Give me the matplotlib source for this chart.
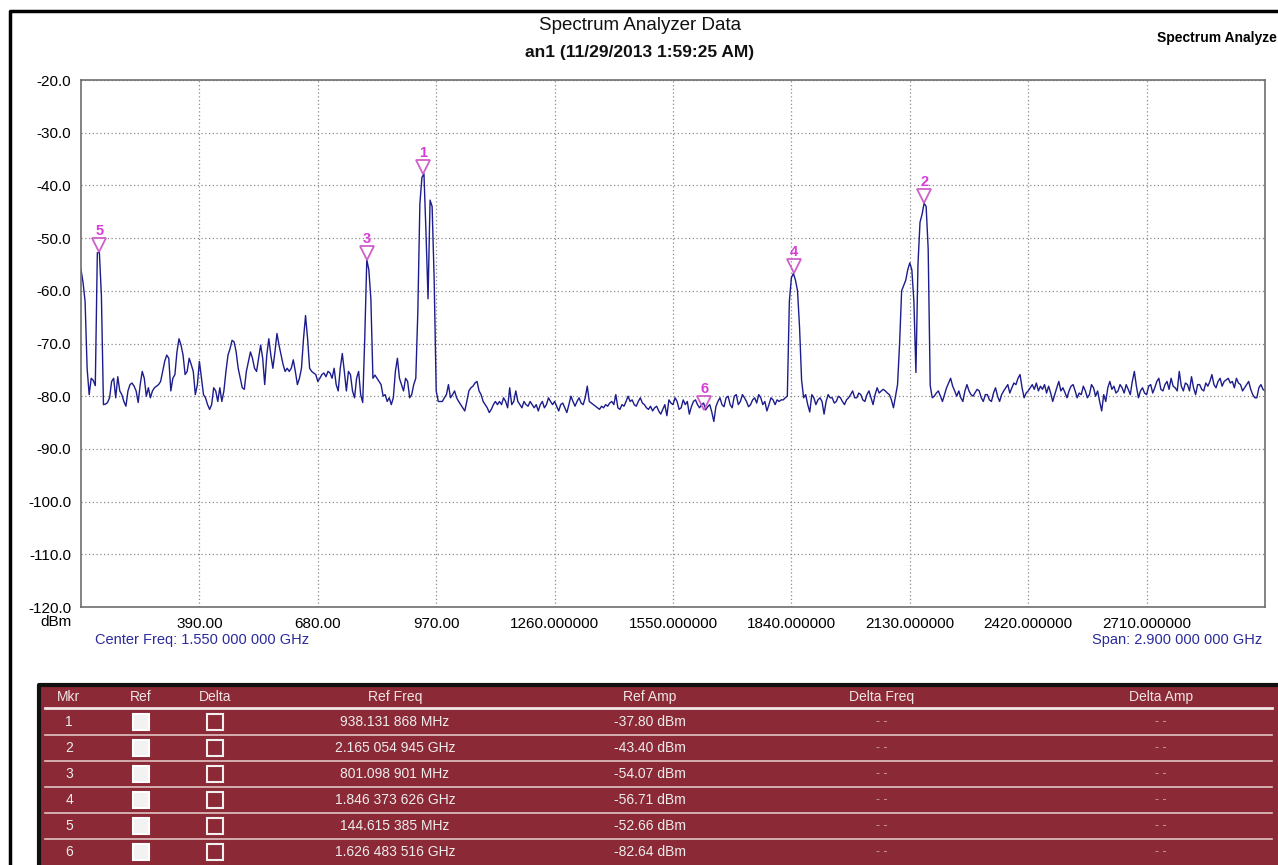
import matplotlib.pyplot as plt
import numpy as np
from matplotlib.patches import Rectangle
from matplotlib.transforms import offset_copy

plt.rcParams['font.family'] = ['Liberation Sans', 'DejaVu Sans']

# sweep 100 MHz .. 3000 MHz, one reading every 5 MHz
start_mhz, stop_mhz = 100, 3000
trace_dbm = [
    # 100 - 195
    -56, -58.4, -62, -74.7, -79.7, -76.6, -77, -78, -52.8, -52.7,
    -61, -81.6, -81.5, -81.2, -80.3, -77.2, -76.6, -80.3, -76.3, -79,
    # 200
    -79.7, -81, -81.9, -79, -77.8, -77.5, -78.1, -79, -81.2, -77.8,
    -75.3, -76.6, -80, -78.4, -80.3, -79, -78.4, -78.1, -77.8, -77.2,
    # 300
    -75.3, -73.4, -72.2, -72.8, -79, -76.6, -75.9, -71.6, -69.1, -70.3,
    -72.2, -75.9, -75.3, -72.8, -74, -75.3, -79.7, -77.8, -73.4, -76.6,
    # 400
    -79.7, -80.3, -81.6, -82.5, -81.6, -78.4, -79, -81, -78.4, -81,
    -79, -75.3, -72.2, -71, -69.4, -69.7, -71.6, -74.7, -76.6, -78.4,
    # 500
    -78.7, -75.3, -73.4, -71.6, -72.8, -74.7, -75.3, -72.8, -70.3, -72.8,
    -77.8, -72.2, -69.1, -72.2, -74.7, -71.6, -68.1, -70.3, -72.2, -74,
    # 600
    -75.3, -74.7, -75.3, -74.7, -73.1, -75.3, -77.8, -76.6, -74.7, -69.1,
    -64.7, -69.1, -74.7, -75.3, -75.6, -75.9, -77.2, -76.6, -75.9, -75.6,
    # 700
    -76.3, -75.3, -75.6, -76.6, -74.7, -77.8, -79, -74.7, -71.9, -75.3,
    -79, -75.3, -75.9, -79, -80.3, -76.6, -75.3, -79.7, -81.2, -69,
    # 800
    -54.1, -56, -61.6, -76.6, -76, -76.6, -77.2, -77.8, -80, -79.7,
    -81, -80.3, -81.6, -80.3, -75.3, -72.8, -76.6, -77.8, -79, -76.6,
    # 900
    -77.2, -80.3, -79.7, -77.8, -76.6, -64, -43.5, -38.5, -37.8, -49,
    -61.5, -42.8, -44, -57.8, -79, -81, -81, -81, -80.3, -79.7,
    # 1000
    -77.8, -80.3, -79.7, -79, -80.3, -81, -81.6, -82.2, -82.8, -81,
    -79, -78.4, -78.1, -77.5, -77.2, -79, -79.7, -81, -81.6, -82.2,
    # 1100
    -83.1, -82.5, -81.6, -81, -81.6, -81, -81.6, -80.3, -81, -82.2,
    -78.4, -81.6, -81, -79, -81, -81.6, -82.2, -81, -81.6, -81.9,
    # 1200
    -81, -81.6, -82.2, -81.6, -82.8, -81.6, -81, -82.2, -81.6, -80.3,
    -81, -81.6, -81, -81.9, -82.8, -81.6, -81.3, -82.2, -83.1, -81.6,
    # 1300
    -80, -81, -81.9, -81, -80.3, -81.3, -81.6, -80.3, -78.1, -81,
    -81.3, -81.6, -81.9, -82.2, -82.5, -81.9, -82.2, -81.6, -81.9, -81.3,
    # 1400
    -81, -81.6, -79.7, -82.2, -82.5, -81.6, -81.9, -81, -80, -81,
    -80.7, -81.6, -81.9, -81, -80.3, -81.3, -81.6, -82.2, -82.5, -81.9,
    # 1500
    -82.8, -82.2, -81.9, -82.8, -83.4, -82.5, -81.6, -83.7, -80.7, -81.3,
    -81.6, -80.3, -81, -82.5, -82.2, -80.7, -81.6, -81, -83.4, -82,
    # 1600
    -81, -80.7, -81.6, -82.2, -81.6, -81.3, -82.6, -82, -81.6, -83,
    -84.8, -82, -81, -80.3, -81.6, -82, -80.3, -80, -81.6, -82.2,
    # 1700
    -80, -79.7, -81.6, -81, -79.7, -80.3, -81, -82, -81.6, -80.7,
    -80.3, -81.3, -79.7, -80.3, -81.6, -81, -82.8, -81.6, -80.3, -80.7,
    # 1800
    -81.6, -80.7, -81, -80.7, -80.7, -80.3, -80, -62, -57.5, -56.7,
    -58, -60, -67, -77, -80.3, -79.7, -81.6, -83, -79.7, -80.3,
    # 1900
    -81.6, -80.7, -80.3, -81, -83.4, -81, -79.7, -80.3, -80.3, -81.3,
    -81, -80, -80.3, -81, -81.6, -80.7, -80.3, -79.7, -79, -80.3,
    # 2000
    -80.3, -79.4, -79.7, -80.7, -81, -79.7, -79, -80.3, -81.6, -79.7,
    -78.4, -79.4, -79, -78.7, -79, -79.4, -79.7, -80.7, -82.2, -80,
    # 2100
    -77.8, -70, -60, -59, -58, -56, -54.7, -56, -62, -75.5,
    -55, -47, -45.5, -43.4, -44, -52, -78, -80.3, -80, -79.4,
    # 2200
    -79, -80, -81, -79.7, -78.4, -77.5, -76.6, -78.1, -79, -80,
    -79, -80.3, -81, -79, -77.8, -79, -79.7, -80, -79.3, -78.7,
    # 2300
    -79, -80.3, -81, -79.7, -79.7, -80.7, -81, -79.4, -78.4, -80,
    -81, -79.7, -79, -78.4, -77.8, -79.4, -78.4, -77.5, -77.8, -76.6,
    # 2400
    -75.9, -78.4, -80.3, -79.4, -79, -78.4, -77.8, -78.7, -77.5, -79,
    -78.1, -78.7, -77.8, -79.4, -78.1, -79.4, -81, -79.7, -78.4, -77.2,
    # 2500
    -79, -78.4, -79.3, -80.3, -79, -78.1, -77.8, -79, -80.3, -79.4,
    -79.7, -78.1, -79, -80.3, -79.7, -77.8, -78.4, -80, -79, -81,
    # 2600
    -82.8, -79.7, -81, -78.4, -77.2, -78.7, -78.1, -79.4, -79, -77.8,
    -78.4, -79.4, -77.8, -78.7, -79.7, -77.2, -75.3, -78.1, -80.3, -79,
    # 2700
    -78.4, -79.4, -79.7, -78.1, -77.8, -79.4, -78.4, -77.2, -76.6, -78.7,
    -79, -77.8, -77.2, -78.7, -76.6, -78.1, -78.4, -79, -75.3, -78.1,
    # 2800
    -79, -77.5, -77.8, -79, -76.3, -78.4, -79.7, -77.8, -77.8, -78.7,
    -79, -77.5, -78.1, -77.2, -75.9, -77.8, -78.4, -77.2, -76.6, -78.1,
    # 2900
    -77.2, -76.9, -76.6, -77.5, -77.2, -78.4, -76.6, -77.5, -77.8, -79,
    -78.4, -77.8, -77.2, -78.7, -79.7, -80.3, -80.3, -78.4, -77.8, -78.7,
    # 3000
    -79,
]
freq_mhz = np.linspace(start_mhz, stop_mhz, len(trace_dbm))

tick_mhz = [390, 680, 970, 1260, 1550, 1840, 2130, 2420, 2710]
tick_labels = ['390.00', '680.00', '970.00', '1260.000000', '1550.000000',
               '1840.000000', '2130.000000', '2420.000000', '2710.000000']
level_ticks = np.arange(-120, -10, 10)

# marker table
mkr_ids = ['1', '2', '3', '4', '5', '6']
mkr_freq_mhz = [938.131868, 2165.054945, 801.098901, 1846.373626, 144.615385, 1626.483516]
mkr_amp_dbm = [-37.80, -43.40, -54.07, -56.71, -52.66, -82.64]
mkr_freq_text = ['938.131 868 MHz', '2.165 054 945 GHz', '801.098 901 MHz',
                 '1.846 373 626 GHz', '144.615 385 MHz', '1.626 483 516 GHz']
mkr_amp_text = ['-37.80 dBm', '-43.40 dBm', '-54.07 dBm',
                '-56.71 dBm', '-52.66 dBm', '-82.64 dBm']
table_cols = ['Mkr', 'Ref', 'Delta', 'Ref Freq', 'Ref Amp', 'Delta Freq', 'Delta Amp']
col_x = [69, 141, 215, 395, 650, 882, 1161]

W, H = 1278, 865
fig = plt.figure(figsize=(W / 100, H / 100), dpi=100)

# background layer in pixel coordinates
bg = fig.add_axes([0, 0, 1, 1])
bg.set_xlim(0, W)
bg.set_ylim(H, 0)
bg.axis('off')

bg.plot([10, 10, W], [H, 11, 11], color='black', lw=2.5)

bg.text(640, 25, 'Spectrum Analyzer Data', ha='center', va='center', fontsize=13.5, color='#111111')
bg.text(640, 53, 'an1 (11/29/2013 1:59:25 AM)', ha='center', va='center', fontsize=12.5,
        fontweight='bold', color='#111111')
# the screenshot cuts this label at its right edge
bg.text(1277, 38, 'Spectrum Analyze', ha='right', va='center', fontsize=10, fontweight='bold')

bg.text(72, 622, 'dBm', ha='right', va='center', fontsize=11)
bg.text(95, 640, 'Center Freq: 1.550 000 000 GHz', ha='left', va='center', fontsize=10.5, color='#2a2a9c')
bg.text(1262, 640, 'Span: 2.900 000 000 GHz', ha='right', va='center', fontsize=10.5, color='#2a2a9c')

# marker table
red = '#8b2a36'
bg.add_patch(Rectangle((40, 686), W - 40, H - 686, facecolor=red, edgecolor='none'))
bg.plot([39, 39, W], [H, 685, 685], color='#111111', lw=3)
bg.plot([45, 1272], [708, 708], color='#f2e6e6', lw=2)
for name, x in zip(table_cols, col_x):
    bg.text(x, 697, name, ha='center', va='center', fontsize=10, color='#efe4e4')

row_h = 26
for i, mk in enumerate(mkr_ids):
    y = 722 + i * row_h
    if i > 0:
        bg.plot([45, 1272], [y - 13, y - 13], color='#e2c4c4', lw=1.2)
    bg.text(col_x[0], y, mk, ha='center', va='center', fontsize=10, color='#ececec')
    bg.add_patch(Rectangle((col_x[1] - 8, y - 8), 16, 16, facecolor='#f2f2f2',
                           edgecolor='white', lw=1.5))
    bg.add_patch(Rectangle((col_x[2] - 8, y - 8), 16, 16, facecolor='none',
                           edgecolor='#f0f0f0', lw=1.5))
    bg.text(col_x[3], y, mkr_freq_text[i], ha='center', va='center', fontsize=10, color='#ececec')
    bg.text(col_x[4], y, mkr_amp_text[i], ha='center', va='center', fontsize=10, color='#ececec')
    bg.text(col_x[5], y, '- -', ha='center', va='center', fontsize=9, color='#c9a0a4')
    bg.text(col_x[6], y, '- -', ha='center', va='center', fontsize=9, color='#c9a0a4')

# spectrum plot
left, right, top, bottom = 81, 1265, 80, 607
ax = fig.add_axes([left / W, 1 - bottom / H, (right - left) / W, (bottom - top) / H])
ax.plot(freq_mhz, trace_dbm, color='#1c1c8c', lw=1.0)
ax.set_xlim(start_mhz, stop_mhz)
ax.set_ylim(-120, -20)
ax.set_xticks(tick_mhz)
ax.set_xticklabels(tick_labels)
ax.set_yticks(level_ticks)
ax.set_yticklabels(['%.1f' % v for v in level_ticks])
ax.tick_params(length=0, labelsize=11, pad=7)
ax.grid(True, color='#8c8c8c', linestyle=(0, (1, 2)), lw=0.9)
for s in ax.spines.values():
    s.set_color('#6e6e6e')
    s.set_linewidth(1.2)

tri = offset_copy(ax.transData, fig=fig, x=0, y=7, units='dots')
num = offset_copy(ax.transData, fig=fig, x=0, y=21, units='dots')
for mk, f, a in zip(mkr_ids, mkr_freq_mhz, mkr_amp_dbm):
    ax.plot([f], [a], marker='v', ms=10, mfc='none', mec='#d060c8', mew=1.3, transform=tri,
            clip_on=False)
    ax.text(f, a, mk, transform=num, ha='center', va='center', fontsize=10.5,
            fontweight='bold', color='#d83cd8')

fig.savefig('out.png', dpi=100)
